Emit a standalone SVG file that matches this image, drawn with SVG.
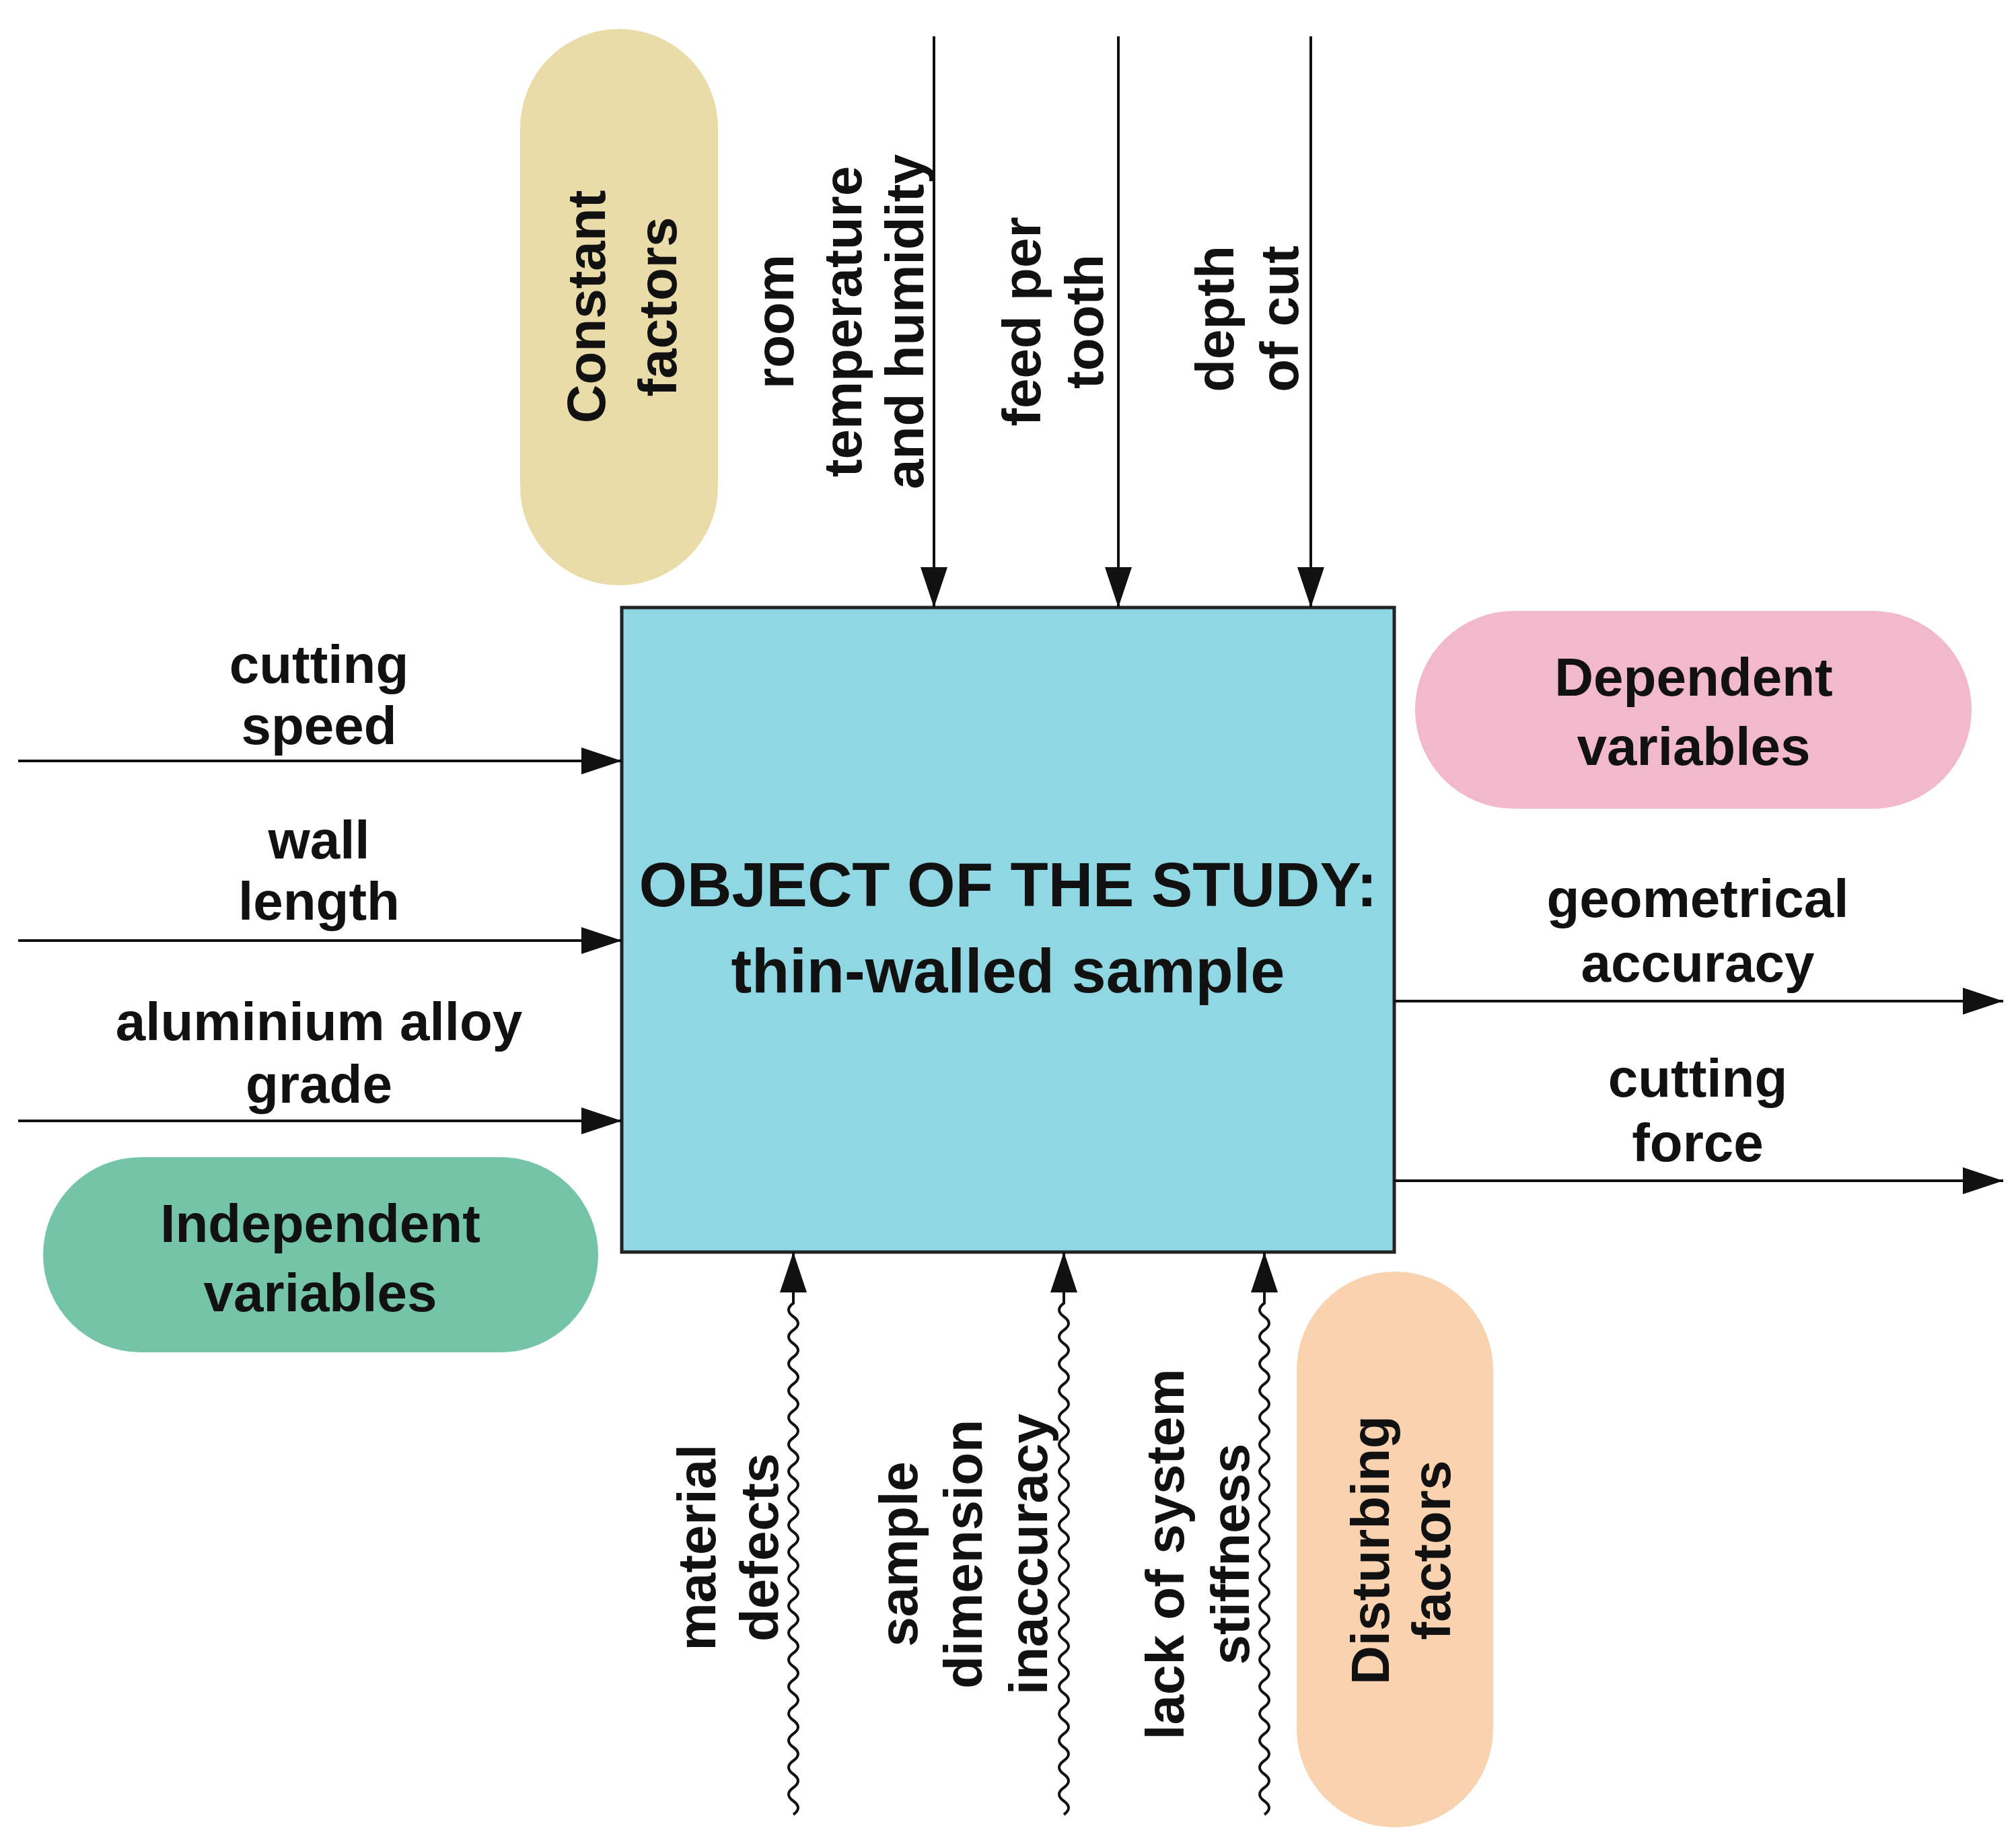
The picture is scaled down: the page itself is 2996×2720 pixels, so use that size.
<svg xmlns="http://www.w3.org/2000/svg" width="2996" height="2720" viewBox="0 0 2996 2720">
<style>
.t{font-family:"Liberation Sans",Arial,sans-serif;font-weight:bold;font-size:80px;fill:#111;text-anchor:middle}
.big{font-size:92px}
.ln{stroke:#111;stroke-width:4;fill:none}
</style>
<defs>
<marker id="ah" markerUnits="userSpaceOnUse" markerWidth="70" markerHeight="50" refX="60" refY="20" orient="auto">
<path d="M0,0 L60,20 L0,40 Z" fill="#111"/>
</marker>
</defs>
<rect width="2996" height="2720" fill="#fff"/>
<g id="object">
<rect x="924" y="903" width="1148" height="958" fill="#8ed7e3" stroke="#222" stroke-width="5"/>
<text class="t big" x="1498" y="1347">OBJECT OF THE STUDY:</text>
<text class="t big" x="1498" y="1475">thin-walled sample</text>
</g>
<g id="constant"><rect x="773" y="43" width="294" height="827" rx="147" fill="#e9dca9"/>
<text class="t" transform="translate(899,456) rotate(-90)">Constant</text>
<text class="t" transform="translate(1005,456) rotate(-90)">factors</text></g>
<g id="dependent"><rect x="2103" y="908" width="827" height="294" rx="147" fill="#f2b8cc"/>
<text class="t" x="2517" y="1034">Dependent</text><text class="t" x="2517" y="1137">variables</text></g>
<g id="independent"><rect x="64" y="1720" width="825" height="290" rx="145" fill="#74c5a7"/>
<text class="t" x="476" y="1846">Independent</text><text class="t" x="476" y="1949">variables</text></g>
<g id="disturbing"><rect x="1927" y="1890" width="292" height="826" rx="146" fill="#f9d2b0"/>
<text class="t" transform="translate(2064,2304) rotate(-90)">Disturbing</text>
<text class="t" transform="translate(2155,2304) rotate(-90)">factors</text></g>
<g id="labels">
<text class="t" transform="translate(1179,478) rotate(-90)">room</text>
<text class="t" transform="translate(1280,478) rotate(-90)">temperature</text>
<text class="t" transform="translate(1372,478) rotate(-90)">and humidity</text>
<text class="t" transform="translate(1546,478) rotate(-90)">feed per</text>
<text class="t" transform="translate(1639,478) rotate(-90)">tooth</text>
<text class="t" transform="translate(1833,474) rotate(-90)">depth</text>
<text class="t" transform="translate(1929,474) rotate(-90)">of cut</text>
<text class="t" x="474" y="1015">cutting</text><text class="t" x="474" y="1106">speed</text>
<text class="t" x="474" y="1276">wall</text><text class="t" x="474" y="1367">length</text>
<text class="t" x="474" y="1546">aluminium alloy</text><text class="t" x="474" y="1639">grade</text>
<text class="t" x="2523" y="1363">geometrical</text><text class="t" x="2523" y="1459">accuracy</text>
<text class="t" x="2523" y="1630">cutting</text><text class="t" x="2523" y="1726">force</text>
<text class="t" transform="translate(1063,2300) rotate(-90)">material</text>
<text class="t" transform="translate(1156,2300) rotate(-90)">defects</text>
<text class="t" transform="translate(1363,2310) rotate(-90)">sample</text>
<text class="t" transform="translate(1459,2310) rotate(-90)">dimension</text>
<text class="t" transform="translate(1556,2310) rotate(-90)">inaccuracy</text>
<text class="t" transform="translate(1759,2310) rotate(-90)">lack of system</text>
<text class="t" transform="translate(1856,2310) rotate(-90)">stiffness</text>
</g>
<g id="connectors" class="ln" marker-end="url(#ah)">
<path class="ln" d="M1388,54 V903"/>
<path class="ln" d="M1662,54 V903"/>
<path class="ln" d="M1948,54 V903"/>
<path class="ln" d="M27,1131 H924"/>
<path class="ln" d="M27,1398 H924"/>
<path class="ln" d="M27,1666 H924"/>
<path class="ln" d="M2072,1488 H2977"/>
<path class="ln" d="M2072,1755 H2977"/>
<path class="ln" d="M1179,2697 q14,-10 0,-20 t0,-20 t0,-20 t0,-20 t0,-20 t0,-20 t0,-20 t0,-20 t0,-20 t0,-20 t0,-20 t0,-20 t0,-20 t0,-20 t0,-20 t0,-20 t0,-20 t0,-20 t0,-20 t0,-20 t0,-20 t0,-20 t0,-20 t0,-20 t0,-20 t0,-20 t0,-20 t0,-20 t0,-20 t0,-20 t0,-20 t0,-20 t0,-20 t0,-20 t0,-20 t0,-20 t0,-20 t0,-20 L1179,1861"/>
<path class="ln" d="M1581,2697 q14,-10 0,-20 t0,-20 t0,-20 t0,-20 t0,-20 t0,-20 t0,-20 t0,-20 t0,-20 t0,-20 t0,-20 t0,-20 t0,-20 t0,-20 t0,-20 t0,-20 t0,-20 t0,-20 t0,-20 t0,-20 t0,-20 t0,-20 t0,-20 t0,-20 t0,-20 t0,-20 t0,-20 t0,-20 t0,-20 t0,-20 t0,-20 t0,-20 t0,-20 t0,-20 t0,-20 t0,-20 t0,-20 t0,-20 L1581,1861"/>
<path class="ln" d="M1879,2697 q14,-10 0,-20 t0,-20 t0,-20 t0,-20 t0,-20 t0,-20 t0,-20 t0,-20 t0,-20 t0,-20 t0,-20 t0,-20 t0,-20 t0,-20 t0,-20 t0,-20 t0,-20 t0,-20 t0,-20 t0,-20 t0,-20 t0,-20 t0,-20 t0,-20 t0,-20 t0,-20 t0,-20 t0,-20 t0,-20 t0,-20 t0,-20 t0,-20 t0,-20 t0,-20 t0,-20 t0,-20 t0,-20 t0,-20 L1879,1861"/>
</g>
</svg>
